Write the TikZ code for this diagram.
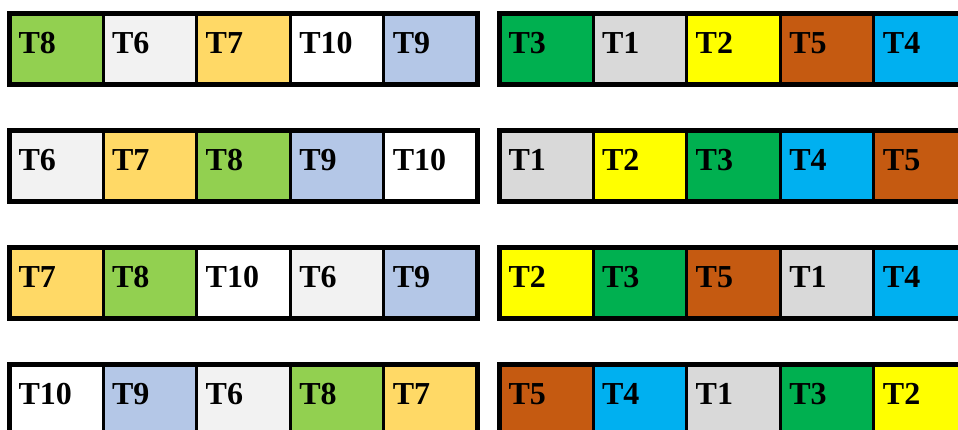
\documentclass[tikz,border=0pt]{standalone}
\usepackage{fontspec}
\setmainfont{Liberation Serif}
\usepackage{xcolor}
\usetikzlibrary{positioning}

\definecolor{tone}{HTML}{D9D9D9}
\definecolor{ttwo}{HTML}{FFFF00}
\definecolor{tthree}{HTML}{00B050}
\definecolor{tfour}{HTML}{00B0F0}
\definecolor{tfive}{HTML}{C55A11}
\definecolor{tsix}{HTML}{F2F2F2}
\definecolor{tseven}{HTML}{FFD966}
\definecolor{teight}{HTML}{92D050}
\definecolor{tnine}{HTML}{B4C7E7}
\definecolor{tten}{HTML}{FFFFFF}

\tikzset{
    cell/.style={draw, line width=3pt, outer sep=0pt, rectangle,
        minimum width=93.6pt, minimum height=71pt, inner xsep=9pt,
        text width=75.6pt, align=left, text height=24pt, text depth=15pt,
        font=\fontsize{32}{36}\selectfont\bfseries},
    frame/.style={draw, line width=4.5pt}
}

\begin{document}
\begin{tikzpicture}[x=1pt,y=1pt]
            \useasboundingbox (0,0) rectangle (958,-430);
            \clip (0,0) rectangle (958,-430);

            % row 1
            \node[cell, fill=teight, anchor=north west] (a1) at (9.5,-13.5) {T8};
            \node[cell, fill=tsix, right=0pt of a1] (a2) {T6};
            \node[cell, fill=tseven, right=0pt of a2] (a3) {T7};
            \node[cell, fill=tten, right=0pt of a3] (a4) {T10};
            \node[cell, fill=tnine, right=0pt of a4] (a5) {T9};
            \node[cell, fill=tthree, anchor=north west] (b1) at (499.5,-13.5) {T3};
            \node[cell, fill=tone, right=0pt of b1] (b2) {T1};
            \node[cell, fill=ttwo, right=0pt of b2] (b3) {T2};
            \node[cell, fill=tfive, right=0pt of b3] (b4) {T5};
            \node[cell, fill=tfour, right=0pt of b4] (b5) {T4};
            \draw[frame] (a1.north west) rectangle (a5.south east);
            \draw[frame] (b1.north west) rectangle (b5.south east);

            % row 2
            \node[cell, fill=tsix, anchor=north west] (c1) at (9.5,-130.5) {T6};
            \node[cell, fill=tseven, right=0pt of c1] (c2) {T7};
            \node[cell, fill=teight, right=0pt of c2] (c3) {T8};
            \node[cell, fill=tnine, right=0pt of c3] (c4) {T9};
            \node[cell, fill=tten, right=0pt of c4] (c5) {T10};
            \node[cell, fill=tone, anchor=north west] (d1) at (499.5,-130.5) {T1};
            \node[cell, fill=ttwo, right=0pt of d1] (d2) {T2};
            \node[cell, fill=tthree, right=0pt of d2] (d3) {T3};
            \node[cell, fill=tfour, right=0pt of d3] (d4) {T4};
            \node[cell, fill=tfive, right=0pt of d4] (d5) {T5};
            \draw[frame] (c1.north west) rectangle (c5.south east);
            \draw[frame] (d1.north west) rectangle (d5.south east);

            % row 3
            \node[cell, fill=tseven, anchor=north west] (e1) at (9.5,-247.5) {T7};
            \node[cell, fill=teight, right=0pt of e1] (e2) {T8};
            \node[cell, fill=tten, right=0pt of e2] (e3) {T10};
            \node[cell, fill=tsix, right=0pt of e3] (e4) {T6};
            \node[cell, fill=tnine, right=0pt of e4] (e5) {T9};
            \node[cell, fill=ttwo, anchor=north west] (f1) at (499.5,-247.5) {T2};
            \node[cell, fill=tthree, right=0pt of f1] (f2) {T3};
            \node[cell, fill=tfive, right=0pt of f2] (f3) {T5};
            \node[cell, fill=tone, right=0pt of f3] (f4) {T1};
            \node[cell, fill=tfour, right=0pt of f4] (f5) {T4};
            \draw[frame] (e1.north west) rectangle (e5.south east);
            \draw[frame] (f1.north west) rectangle (f5.south east);

            % row 4
            \node[cell, fill=tten, anchor=north west] (g1) at (9.5,-364.5) {T10};
            \node[cell, fill=tnine, right=0pt of g1] (g2) {T9};
            \node[cell, fill=tsix, right=0pt of g2] (g3) {T6};
            \node[cell, fill=teight, right=0pt of g3] (g4) {T8};
            \node[cell, fill=tseven, right=0pt of g4] (g5) {T7};
            \node[cell, fill=tfive, anchor=north west] (h1) at (499.5,-364.5) {T5};
            \node[cell, fill=tfour, right=0pt of h1] (h2) {T4};
            \node[cell, fill=tone, right=0pt of h2] (h3) {T1};
            \node[cell, fill=tthree, right=0pt of h3] (h4) {T3};
            \node[cell, fill=ttwo, right=0pt of h4] (h5) {T2};
            \draw[frame] (g1.north west) rectangle (g5.south east);
            \draw[frame] (h1.north west) rectangle (h5.south east);
\end{tikzpicture}
\end{document}
